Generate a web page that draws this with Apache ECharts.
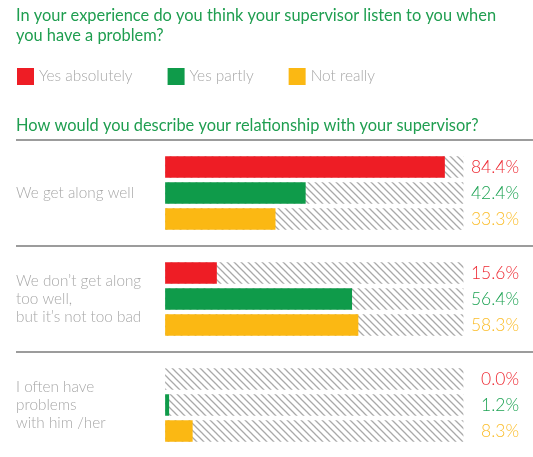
<!DOCTYPE html>
<html><head><meta charset="utf-8">
<script src="https://cdn.jsdelivr.net/npm/echarts@6/dist/echarts.min.js"></script>
<style>html,body{margin:0;padding:0;background:#fff}#c{width:533px;height:457px}</style>
</head><body><div id="c"></div>
<script>
// ---- data ----
const titleText = 'In your experience do you think your supervisor listen to you when\nyou have a problem?';
const subtitleText = 'How would you describe your relationship with your supervisor?';
const categories = ['We get along well', 'We don\u2019t get along\ntoo well,\nbut it\u2019s not too bad', 'I often have\nproblems\nwith him /her'];
const seriesNames = ['Yes absolutely', 'Yes partly', 'Not really'];
const yesAbsolutely = [84.4, 15.6, 0.0];
const yesPartly = [42.4, 56.4, 1.2];
const notReally = [33.3, 58.3, 8.3];
const trackEnd = 90; // value where the hatched track ends

// ---- styles ----
const colors = ['#ee1d25', '#0f9b4a', '#fbb813'];
const labelColors = ['#ee2a33', '#1ea354', '#fbbd2a'];
const green = '#1f9e50';
const gray = '#a8a8a8';
const FONT = 'Lato';

function hatch() {
  const n = 7, c = document.createElement('canvas');
  c.width = n; c.height = n;
  const g = c.getContext('2d');
  g.fillStyle = '#fff'; g.fillRect(0, 0, n, n);
  g.strokeStyle = '#a9a9a9'; g.lineWidth = 1.3;
  g.beginPath();
  g.moveTo(-1, -1); g.lineTo(n + 1, n + 1);
  g.moveTo(-1, n - 1); g.lineTo(1, n + 1);
  g.moveTo(n - 1, -1); g.lineTo(n + 1, 1);
  g.stroke();
  return { image: c, repeat: 'repeat' };
}
const pattern = hatch();
const BW = 21.5, GAP = '21%';
const values = [yesAbsolutely, yesPartly, notReally];

const series = [];
values.forEach((v, i) => {
  series.push({
    type: 'bar', yAxisIndex: 1, silent: true, z: 1,
    barWidth: BW, barGap: GAP,
    data: categories.map(() => trackEnd),
    itemStyle: { color: pattern }
  });
});
values.forEach((v, i) => {
  series.push({
    name: seriesNames[i], type: 'bar', yAxisIndex: 0, z: 2,
    barWidth: BW, barGap: GAP,
    data: v,
    itemStyle: { color: colors[i] },
    label: {
      show: true, position: [354, '50%'], align: 'right', verticalAlign: 'middle',
      formatter: p => p.value.toFixed(1) + '%',
      color: labelColors[i], fontSize: 17.5, fontFamily: FONT, fontWeight: 300
    }
  });
});

const chart = echarts.init(document.getElementById('c'), null, { renderer: 'canvas' });
chart.setOption({
  animation: false,
  backgroundColor: '#fff',
  title: [
    { text: titleText, left: 16, top: 6, padding: 0,
      textStyle: { color: green, fontSize: 16.4, fontWeight: 'normal', fontFamily: FONT, lineHeight: 19.5 } },
    { text: subtitleText, left: 16, top: 116, padding: 0,
      textStyle: { color: green, fontSize: 16.4, fontWeight: 'normal', fontFamily: FONT, lineHeight: 19.5 } }
  ],
  legend: {
    left: 12, top: 63, itemWidth: 17, itemHeight: 17, itemGap: 35, icon: 'rect',
    data: seriesNames,
    textStyle: { color: gray, fontSize: 15.4, fontFamily: FONT, fontWeight: 300 }
  },
  grid: { left: 16, right: 0, top: 140, bottom: -1, containLabel: false, outerBoundsMode: 'none' },
  xAxis: { type: 'value', min: -45, max: 111, show: false },
  yAxis: [
    { type: 'category', data: categories, inverse: true,
      axisLine: { show: false, onZero: false }, axisTick: { show: false },
      splitLine: { show: true, lineStyle: { color: '#9c9c9c', width: 2 } },
      axisLabel: { inside: true, align: 'left', margin: 0, color: gray, fontSize: 15.3, lineHeight: 18,
        fontFamily: FONT, fontWeight: 300 } },
    { type: 'category', data: categories, inverse: true, show: false }
  ],
  series: series
});
</script></body></html>
